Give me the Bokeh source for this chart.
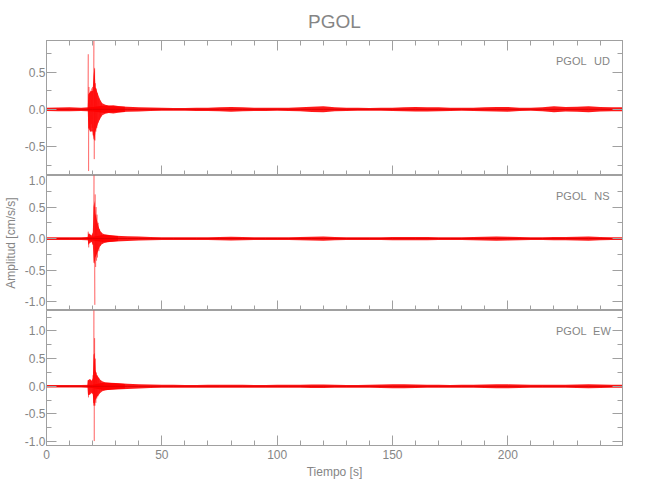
from bokeh.plotting import figure
from bokeh.layouts import column
from bokeh.models import (LinearAxis, Range1d, Label, SingleIntervalTicker,
                          FixedTicker, PrintfTickFormatter)
from bokeh.embed import file_html
from bokeh.resources import INLINE

FONT = "Liberation Sans"
AXC = "#a0a0a0"
TXT = "#858585"
RED = "#ff0000"

station = "PGOL"
components = ["UD", "NS", "EW"]
title_text = "PGOL"
y_label = "Amplitud [cm/s/s]"
x_label = "Tiempo [s]"

# tick positions
x_major = [0, 50, 100, 150, 200]
x_minor = [10, 20, 30, 40, 60, 70, 80, 90, 110, 120, 130, 140, 160, 170, 180, 190,
           210, 220, 230, 240]
y_major = [-1.0, -0.5, 0.0, 0.5, 1.0]
y_minor = [-1.25, -0.75, -0.25, 0.25, 0.75, 1.25]

# background noise envelope (half width), sampled every 5 s
t_bg = list(range(0, 251, 5))
ud_bg = [0.022, 0.025, 0.027, 0.022, 0.03, 0.05, 0.04, 0.033, 0.028, 0.023,
         0.02, 0.018, 0.018, 0.022, 0.022, 0.026, 0.032, 0.027, 0.022, 0.022,
         0.02, 0.022, 0.027, 0.035, 0.04, 0.027, 0.022, 0.02, 0.018, 0.02,
         0.022, 0.027, 0.031, 0.028, 0.026, 0.022, 0.02, 0.022, 0.026, 0.03,
         0.032, 0.022, 0.02, 0.027, 0.04, 0.03, 0.034, 0.04, 0.031, 0.027, 0.027]
ns_bg = [0.022, 0.022, 0.022, 0.022, 0.03, 0.06, 0.045, 0.038, 0.032, 0.027,
         0.022, 0.022, 0.022, 0.022, 0.022, 0.026, 0.031, 0.026, 0.022, 0.022,
         0.022, 0.022, 0.026, 0.031, 0.035, 0.026, 0.022, 0.022, 0.022, 0.022,
         0.026, 0.026, 0.026, 0.026, 0.022, 0.022, 0.022, 0.026, 0.031, 0.035,
         0.031, 0.026, 0.022, 0.022, 0.026, 0.026, 0.031, 0.035, 0.026, 0.022, 0.022]
ew_bg = [0.022, 0.022, 0.022, 0.022, 0.03, 0.07, 0.06, 0.048, 0.038, 0.032,
         0.028, 0.027, 0.025, 0.025, 0.027, 0.027, 0.027, 0.027, 0.025, 0.025,
         0.027, 0.027, 0.027, 0.031, 0.031, 0.027, 0.025, 0.025, 0.027, 0.031,
         0.035, 0.035, 0.031, 0.027, 0.027, 0.025, 0.027, 0.027, 0.031, 0.035,
         0.035, 0.031, 0.027, 0.027, 0.027, 0.027, 0.031, 0.035, 0.031, 0.027, 0.027]

# event envelope (upper / lower)
ud_band_t = [17.9, 18.1, 19.0, 20.0, 20.4, 20.8, 21.2, 21.8, 22.6, 23.4, 24.2, 25.5, 27.0, 29.0, 31.0, 34.0]
ud_band_hi = [0.02, 0.2, 0.24, 0.25, 0.45, 0.57, 0.3, 0.25, 0.18, 0.12, 0.08, 0.06, 0.05, 0.055, 0.045, 0.035]
ud_band_lo = [-0.02, -0.25, -0.3, -0.3, -0.4, -0.42, -0.3, -0.24, -0.17, -0.12, -0.08, -0.06, -0.05, -0.055, -0.045, -0.035]

ns_band_t = [17.9, 18.1, 18.8, 19.5, 20.1, 20.4, 20.8, 21.2, 21.8, 22.5, 23.2, 24.0, 25.0, 26.5, 28.5, 31.0]
ns_band_hi = [0.02, 0.08, 0.07, 0.05, 0.1, 0.5, 0.6, 0.4, 0.3, 0.2, 0.13, 0.09, 0.07, 0.06, 0.05, 0.04]
ns_band_lo = [-0.02, -0.1, -0.07, -0.05, -0.1, -0.38, -0.4, -0.3, -0.25, -0.18, -0.12, -0.09, -0.07, -0.06, -0.05, -0.04]

ew_band_t = [17.8, 18.0, 18.8, 19.6, 20.1, 20.4, 20.8, 21.2, 21.8, 22.5, 23.3, 24.2, 25.5, 28.0, 31.0, 34.0]
ew_band_hi = [0.02, 0.11, 0.13, 0.1, 0.15, 0.57, 0.6, 0.3, 0.2, 0.17, 0.12, 0.09, 0.07, 0.06, 0.05, 0.04]
ew_band_lo = [-0.02, -0.16, -0.15, -0.12, -0.15, -0.35, -0.35, -0.25, -0.2, -0.16, -0.12, -0.09, -0.07, -0.06, -0.05, -0.04]

# individual peak swings around the arrivals
ud_wig_t = [17.9, 18.1, 18.25, 18.4, 18.6, 18.8, 19.0, 19.2, 19.4, 19.6, 19.8, 20.0, 20.2, 20.4, 20.55,
            20.7, 20.85, 21.0, 21.2, 21.4, 21.6, 21.8, 22.0, 22.3, 22.6, 22.9, 23.2, 23.5, 23.8, 24.2]
ud_wig_v = [0.0, 0.74, -0.83, 0.3, -0.25, 0.22, -0.3, 0.25, -0.2, 0.28, -0.25, 0.3, -0.35, 0.45, 0.95,
            -0.67, 0.55, -0.42, 0.35, -0.3, 0.28, -0.25, 0.22, -0.18, 0.15, -0.14, 0.12, -0.1, 0.08, 0.0]

ns_wig_t = [17.9, 18.1, 18.3, 18.5, 18.8, 19.1, 19.5, 19.9, 20.2, 20.4, 20.6, 20.8, 20.95, 21.1, 21.3,
            21.5, 21.7, 21.9, 22.1, 22.4, 22.7, 23.0, 23.3, 23.7, 24.1, 24.6]
ns_wig_v = [0.0, 0.11, -0.14, 0.08, -0.07, 0.06, -0.05, 0.05, -0.1, 0.3, 1.05, -0.5, -1.05, 0.7, -0.45,
            0.5, -0.35, 0.38, -0.3, 0.25, -0.2, 0.15, -0.12, 0.1, -0.08, 0.0]

ew_wig_t = [17.8, 18.0, 18.2, 18.4, 18.7, 19.0, 19.3, 19.6, 19.9, 20.2, 20.4, 20.55, 20.7, 20.85, 21.0,
            21.2, 21.4, 21.6, 21.8, 22.0, 22.3, 22.6, 22.9, 23.3, 23.7, 24.2, 24.8]
ew_wig_v = [0.0, 0.11, -0.2, 0.1, -0.15, 0.12, -0.1, 0.1, -0.12, 0.2, -0.3, 1.4, -0.99, 0.87, -0.35,
            0.5, -0.3, 0.25, -0.22, 0.2, -0.18, 0.15, -0.12, 0.1, -0.08, 0.06, 0.0]

y_ranges = [(-0.89, 0.925), (-1.14, 1.0), (-1.07, 1.37)]
label_y = [0.65, 0.68, 1.0]

x_range = Range1d(0, 249.7)


def base_style(ax):
    ax.axis_line_color = AXC
    ax.major_tick_line_color = AXC
    ax.minor_tick_line_color = AXC
    ax.major_tick_out = 0
    ax.minor_tick_out = 0
    ax.major_label_text_font = FONT
    ax.major_label_text_color = TXT
    ax.major_label_text_font_size = "12px"
    ax.axis_label_text_font = FONT
    ax.axis_label_text_color = TXT
    ax.axis_label_text_font_style = "normal"
    ax.axis_label_text_font_size = "12px"


def tick_only_axes(p, side, major, minor):
    # two label-free axes: long ticks at major positions, short at minor ones
    for pos, ln in ((major, 10), (minor, 5)):
        ax = LinearAxis(ticker=FixedTicker(ticks=[], minor_ticks=pos))
        base_style(ax)
        ax.major_tick_in = 0
        ax.minor_tick_in = ln
        ax.major_label_standoff = 0
        p.add_layout(ax, side)


def make_panel(idx, comp, bg, bt, bh, bl, wt, wv, top, bottom):
    kw = dict(frame_width=576, frame_height=135, x_range=x_range,
              y_range=Range1d(*y_ranges[idx]), output_backend="svg",
              toolbar_location=None, x_axis_location=None, y_axis_location=None,
              min_border_left=40, min_border_right=8,
              min_border_top=0, min_border_bottom=0)
    if top:
        kw["title"] = title_text
    p = figure(**kw)
    p.grid.visible = False
    p.outline_line_color = AXC
    p.background_fill_color = "white"
    p.border_fill_color = "white"

    left = LinearAxis(ticker=SingleIntervalTicker(interval=0.5, num_minor_ticks=2),
                      formatter=PrintfTickFormatter(format="%.1f"))
    base_style(left)
    left.major_tick_in = 10
    left.minor_tick_in = 5
    left.major_label_standoff = 1
    if idx == 1:
        left.axis_label = y_label
        left.axis_label_standoff = 4
    p.add_layout(left, "left")

    tick_only_axes(p, "right", y_major, y_minor)

    if bottom:
        below = LinearAxis(ticker=SingleIntervalTicker(interval=50, num_minor_ticks=5),
                           formatter=PrintfTickFormatter(format="%d"))
        base_style(below)
        below.major_tick_in = 10
        below.minor_tick_in = 5
        below.major_label_standoff = 4
        below.axis_label = x_label
        below.axis_label_standoff = 3
        p.add_layout(below, "below")
    else:
        tick_only_axes(p, "below", x_major, x_minor)

    if top:
        tick_only_axes(p, "above", x_major, x_minor)
        p.title.align = "center"
        p.title.text_font = FONT
        p.title.text_font_size = "19px"
        p.title.text_font_style = "normal"
        p.title.text_color = TXT
        p.title.standoff = 17

    neg_bg = [-v for v in bg]
    p.varea(x=t_bg, y1=neg_bg, y2=bg, fill_color=RED, fill_alpha=0.9)
    p.varea(x=bt, y1=bl, y2=bh, fill_color=RED, fill_alpha=0.85)
    p.line(x=wt, y=wv, line_color=RED, line_alpha=0.35, line_width=1)
    p.line(x=t_bg, y=[0] * len(t_bg), line_color="#e00000", line_width=1)

    p.add_layout(Label(x=227.5, y=label_y[idx], text=station, text_font=FONT,
                       text_font_size="11px", text_color=TXT, text_baseline="middle",
                       text_align="center"))
    p.add_layout(Label(x=240.8, y=label_y[idx], text=comp, text_font=FONT,
                       text_font_size="11px", text_color=TXT, text_baseline="middle",
                       text_align="center"))
    return p


p1 = make_panel(0, components[0], ud_bg, ud_band_t, ud_band_hi, ud_band_lo, ud_wig_t, ud_wig_v, True, False)
p2 = make_panel(1, components[1], ns_bg, ns_band_t, ns_band_hi, ns_band_lo, ns_wig_t, ns_wig_v, False, False)
p3 = make_panel(2, components[2], ew_bg, ew_band_t, ew_band_hi, ew_band_lo, ew_wig_t, ew_wig_v, False, True)

p = column(p1, p2, p3, spacing=0)
open("out.html", "w").write(file_html(p, INLINE))
